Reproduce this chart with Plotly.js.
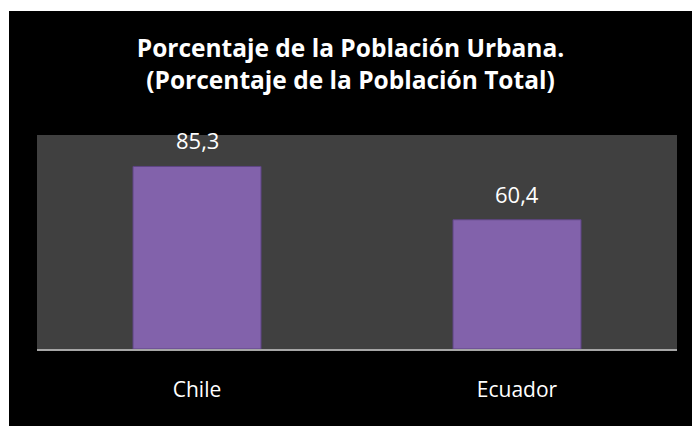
<!DOCTYPE html>
<html>
<head>
<meta charset="utf-8">
<script src="https://cdn.plot.ly/plotly-3.0.1.min.js"></script>
<style>
html,body{margin:0;padding:0;background:#ffffff;width:692px;height:426px;overflow:hidden;}
#chart{position:absolute;left:9px;top:11px;width:683px;height:415px;}
</style>
</head>
<body>
<div id="chart"></div>
<script>
const categories = ["Chile", "Ecuador"];
const values = [85.3, 60.4];
const titleText = "Porcentaje de la Población Urbana.<br>(Porcentaje de la Población Total)";

const fmt = v => v.toFixed(1).replace('.', ',');

const trace = {
  type: 'bar',
  x: categories,
  y: values,
  marker: {color: '#8262ab', line: {color: '#5f4585', width: 1}},
  hoverinfo: 'skip'
};

const annotations = categories.map((c, i) => ({
  x: c, y: values[i], xref: 'x', yref: 'y',
  text: fmt(values[i]), showarrow: false,
  yanchor: 'bottom', yshift: 9,
  font: {family: 'Open Sans, sans-serif', size: 22, color: '#ffffff'}
}));

const layout = {
  width: 683, height: 415,
  paper_bgcolor: '#000000',
  plot_bgcolor: '#404040',
  margin: {l: 28, r: 15, t: 124, b: 77},
  separators: ',.',
  bargap: 0.6,
  showlegend: false,
  title: {
    text: titleText,
    x: 0.5, xanchor: 'center',
    y: 0.888, yanchor: 'middle', yref: 'container',
    font: {family: 'Open Sans, sans-serif', size: 24.5, color: '#ffffff', weight: 'bold'}
  },
  xaxis: {
    showline: true, linecolor: '#a6a6a6', linewidth: 2,
    showgrid: false, zeroline: false,
    ticks: '', ticklabelstandoff: 21,
    tickfont: {family: 'Open Sans, sans-serif', size: 21, color: '#ffffff'},
    fixedrange: true
  },
  yaxis: {
    range: [0, 100], showgrid: false, zeroline: false,
    showticklabels: false, ticks: '', showline: false, fixedrange: true
  },
  annotations: annotations
};

Plotly.newPlot('chart', [trace], layout, {displayModeBar: false, staticPlot: true});
</script>
</body>
</html>
